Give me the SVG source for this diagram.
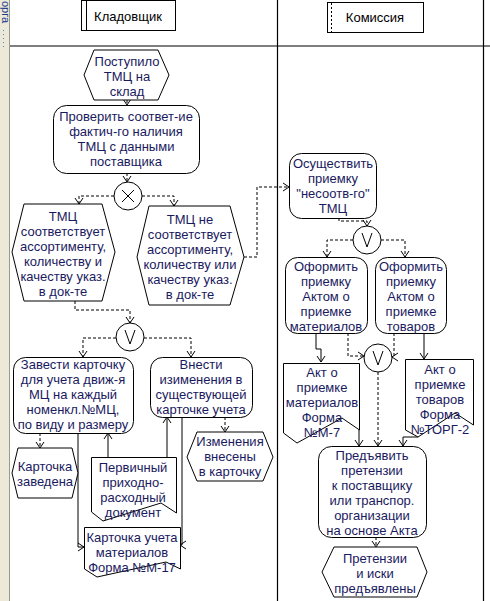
<svg xmlns="http://www.w3.org/2000/svg" width="490" height="601" viewBox="0 0 490 601">
<defs>
<marker id="arr" markerUnits="userSpaceOnUse" markerWidth="8" markerHeight="10" refX="6" refY="4" orient="auto" overflow="visible">
<path d="M0,0 L6,4 L0,8" fill="none" stroke="#000" stroke-width="1"/>
</marker>
<style>
.sh{fill:#fff;stroke:#000;stroke-width:1}
.t{font-family:"Liberation Sans",Arial,sans-serif;font-size:13px;fill:#1a1a60;text-anchor:middle}
.h{font-family:"Liberation Sans",Arial,sans-serif;font-size:13px;fill:#000;text-anchor:middle}
.d{fill:none;stroke:#000;stroke-width:1;stroke-dasharray:3,2}
.s{fill:none;stroke:#000;stroke-width:1}
.lane{stroke:#000;stroke-width:1.2;fill:none}
</style>
</defs>
<rect x="0" y="0" width="490" height="601" fill="#fff"/>
<!-- left strip -->
<g id="sidebar">
<rect x="0" y="0" width="9.5" height="601" fill="#ECE9D8"/>
<line x1="9.5" y1="0" x2="9.5" y2="601" stroke="#9a9a90" stroke-width="1"/>
<text x="2" y="1" transform="rotate(90 2 1)" font-family="'Liberation Sans',Arial,sans-serif" font-size="11" fill="#1a3a8a">орга</text>
<line x1="3.5" y1="30" x2="3.5" y2="50" stroke="#4a8ad8" stroke-dasharray="1,3"/>
</g>
<!-- lanes -->
<g id="lanes">
<line class="lane" x1="10" y1="46" x2="490" y2="46"/>
<line class="lane" x1="277.5" y1="0" x2="277.5" y2="601"/>
<line class="lane" x1="483.5" y1="0" x2="483.5" y2="601"/>
</g>
<g id="header-kladovshchik">
<rect class="sh" x="81.5" y="0.5" width="94" height="30"/>
<line class="s" x1="86.5" y1="0.5" x2="86.5" y2="30.5"/>
<text class="h" x="128" y="21">Кладовщик</text>
</g>
<g id="header-komissiya">
<rect class="sh" x="327.5" y="2.5" width="96" height="30"/>
<line x1="331.5" y1="3" x2="331.5" y2="32" stroke="#000" stroke-dasharray="2,2"/>
<text class="h" x="375" y="22">Комиссия</text>
</g>
<!-- connectors -->
<g id="connectors">
<path class="d" d="M127,100 V105" marker-end="url(#arr)"/>
<path class="d" d="M127,173 V182" marker-end="url(#arr)"/>
<path class="d" d="M114,196 H79 V204" marker-end="url(#arr)"/>
<path class="d" d="M142,196 H174 V206" marker-end="url(#arr)"/>
<path class="d" d="M244,257 H257 V187 H289" marker-end="url(#arr)"/>
<path class="d" d="M75,301 V310 H130 V323" marker-end="url(#arr)"/>
<path class="d" d="M116,338 H83 V357" marker-end="url(#arr)"/>
<path class="d" d="M144,338 H191 V357" marker-end="url(#arr)"/>
<path class="d" d="M225,417 V432" marker-end="url(#arr)"/>
<path class="d" d="M40,433 V448" marker-end="url(#arr)"/>
<path class="s" d="M108,457 V433" marker-end="url(#arr)"/>
<path class="s" d="M167,457 V417" marker-end="url(#arr)"/>
<path class="s" d="M78,433 V547 H84" marker-end="url(#arr)"/>
<path class="s" d="M182,417 V545 H180" marker-end="url(#arr)"/>
<path class="d" d="M339,218 V221 H367 V226" marker-end="url(#arr)"/>
<path class="d" d="M353,240 H327 V257" marker-end="url(#arr)"/>
<path class="d" d="M381,240 H405 V257" marker-end="url(#arr)"/>
<path class="s" d="M316,333 V349 H321 V362" marker-end="url(#arr)"/>
<path class="d" d="M348,333 V356 H364" marker-end="url(#arr)"/>
<path class="d" d="M394,333 V357 H392" marker-end="url(#arr)"/>
<path class="s" d="M424,333 V359" marker-end="url(#arr)"/>
<path class="d" d="M378,372 V446" marker-end="url(#arr)"/>
<path class="s" d="M359,430 V446" marker-end="url(#arr)"/>
<path class="s" d="M418,428 V437 H403 V446" marker-end="url(#arr)"/>
<path class="d" d="M376,537 V547" marker-end="url(#arr)"/>
</g>
<!-- nodes -->
<g id="n-postupilo">
<polygon class="sh" points="94,50 158,50 169,75 158,100 94,100 84,75"/>
<text class="t" x="127" y="66">Поступило</text>
<text class="t" x="127" y="81">ТМЦ на</text>
<text class="t" x="127" y="96">склад</text>
</g>
<g id="n-proverit">
<rect class="sh" x="53.5" y="105.5" width="146" height="68" rx="13"/>
<text class="t" x="126" y="121">Проверить соответ-ие</text>
<text class="t" x="126" y="136">фактич-го наличия</text>
<text class="t" x="126" y="151">ТМЦ с данными</text>
<text class="t" x="126" y="166">поставщика</text>
</g>
<g id="xor1">
<circle class="sh" cx="128" cy="196" r="14"/>
<path class="s" d="M122,190 L134,202 M134,190 L122,202"/>
</g>
<g id="n-sootv">
<polygon class="sh" points="24,204 102,204 115,252 102,301 24,301 12,252"/>
<text class="t" x="63" y="221">ТМЦ</text>
<text class="t" x="63" y="236">соответствует</text>
<text class="t" x="63" y="251">ассортименту,</text>
<text class="t" x="63" y="266">количеству и</text>
<text class="t" x="63" y="281">качеству указ.</text>
<text class="t" x="63" y="296">в док-те</text>
</g>
<g id="n-nesootv">
<polygon class="sh" points="149,206 230,206 244,257 230,305 149,305 137,257"/>
<text class="t" x="190" y="224">ТМЦ не</text>
<text class="t" x="190" y="239">соответствует</text>
<text class="t" x="190" y="254">ассортименту,</text>
<text class="t" x="190" y="269">количеству или</text>
<text class="t" x="190" y="284">качеству указ.</text>
<text class="t" x="190" y="299">в док-те</text>
</g>
<g id="or1">
<circle class="sh" cx="130" cy="337" r="14"/>
<path class="s" d="M125,330 L130,344 L135,330"/>
</g>
<g id="n-zavesti">
<rect class="sh" x="13.5" y="357.5" width="120" height="76" rx="12"/>
<text class="t" x="73" y="369">Завести карточку</text>
<text class="t" x="73" y="384">для учета движ-я</text>
<text class="t" x="73" y="399">МЦ на каждый</text>
<text class="t" x="73" y="414">номенкл.№МЦ,</text>
<text class="t" x="73" y="429">по виду и размеру</text>
</g>
<g id="n-vnesti">
<rect class="sh" x="150.5" y="357.5" width="102" height="60" rx="12"/>
<text class="t" x="201" y="369">Внести</text>
<text class="t" x="201" y="384">изименения в</text>
<text class="t" x="201" y="399">существующей</text>
<text class="t" x="201" y="414">карточке учета</text>
</g>
<g id="n-izmeneniya">
<polygon class="sh" points="197,432 263,432 273,457 263,481 197,481 187,457"/>
<text class="t" x="230" y="446">Изменения</text>
<text class="t" x="230" y="461">внесены</text>
<text class="t" x="230" y="476">в карточку</text>
</g>
<g id="n-kartochka-zavedena">
<polygon class="sh" points="18,448 72,448 78,473 72,498 18,498 12,473"/>
<text class="t" x="45" y="471">Карточка</text>
<text class="t" x="45" y="486">заведена</text>
</g>
<g id="n-pervichny">
<path class="sh" d="M91.5,457.5 H176.5 V513 L161,503 L103,521 L91.5,512 Z"/>
<text class="t" x="133" y="472">Первичный</text>
<text class="t" x="133" y="487">приходно-</text>
<text class="t" x="133" y="502">расходный</text>
<text class="t" x="133" y="517">документ</text>
</g>
<g id="n-kartochka-ucheta">
<path class="sh" d="M84.5,527.5 H180.5 V569 L166,562 L97,577 L84.5,569 Z"/>
<text class="t" x="132" y="542">Карточка учета</text>
<text class="t" x="132" y="557">материалов</text>
<text class="t" x="132" y="572">Форма №М-17</text>
</g>
<g id="n-osushchestvit">
<rect class="sh" x="289.5" y="153.5" width="87" height="65" rx="12"/>
<text class="t" x="333" y="168">Осуществить</text>
<text class="t" x="333" y="183">приемку</text>
<text class="t" x="333" y="198">"несоотв-го"</text>
<text class="t" x="333" y="213">ТМЦ</text>
</g>
<g id="or2">
<circle class="sh" cx="367" cy="240" r="14"/>
<path class="s" d="M362,233 L367,247 L372,233"/>
</g>
<g id="n-oformit-mat">
<rect class="sh" x="285.5" y="257.5" width="82" height="76" rx="12"/>
<text class="t" x="326" y="271">Оформить</text>
<text class="t" x="326" y="286">приемку</text>
<text class="t" x="326" y="301">Актом о</text>
<text class="t" x="326" y="316">приемке</text>
<text class="t" x="326" y="331">материалов</text>
</g>
<g id="n-oformit-tov">
<rect class="sh" x="375.5" y="257.5" width="71" height="76" rx="12"/>
<text class="t" x="411" y="271">Оформить</text>
<text class="t" x="411" y="286">приемку</text>
<text class="t" x="411" y="301">Актом о</text>
<text class="t" x="411" y="316">приемке</text>
<text class="t" x="411" y="331">товаров</text>
</g>
<g id="or3">
<circle class="sh" cx="378" cy="358" r="14"/>
<path class="s" d="M373,351 L378,365 L383,351"/>
</g>
<g id="n-akt-mat">
<path class="sh" d="M283.5,363.5 H359.5 V430 L342,418 L297,443 L283.5,433 Z"/>
<text class="t" x="322" y="377">Акт о</text>
<text class="t" x="322" y="392">приемке</text>
<text class="t" x="322" y="407">материалов</text>
<text class="t" x="322" y="422">Форма</text>
<text class="t" x="322" y="437">№М-7</text>
</g>
<g id="n-akt-tov">
<path class="sh" d="M405.5,359.5 H473.5 V425 L455,413 L418,437 L405.5,430 Z"/>
<text class="t" x="440" y="374">Акт о</text>
<text class="t" x="440" y="389">приемке</text>
<text class="t" x="440" y="404">товаров</text>
<text class="t" x="440" y="419">Форма</text>
<text class="t" x="440" y="434">№ТОРГ-2</text>
</g>
<g id="n-predyavit">
<rect class="sh" x="318.5" y="446.5" width="108" height="91" rx="13"/>
<text class="t" x="372" y="460">Предъявить</text>
<text class="t" x="372" y="475">претензии</text>
<text class="t" x="372" y="490">к поставщику</text>
<text class="t" x="372" y="505">или транспор.</text>
<text class="t" x="372" y="520">организации</text>
<text class="t" x="372" y="535">на основе Акта</text>
</g>
<g id="n-pretenzii">
<polygon class="sh" points="334,547 417,547 427,572 417,597 334,597 322,572"/>
<text class="t" x="375" y="563">Претензии</text>
<text class="t" x="375" y="578">и иски</text>
<text class="t" x="375" y="593">предъявлены</text>
</g>
</svg>
